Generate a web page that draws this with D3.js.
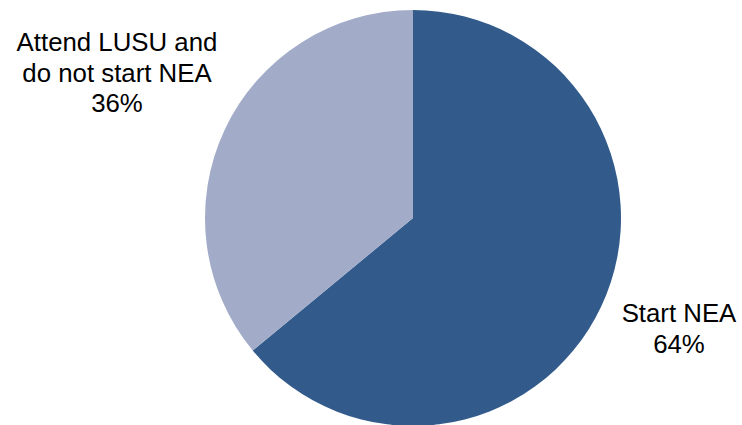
<!DOCTYPE html>
<html>
<head>
<meta charset="utf-8">
<script src="https://cdn.jsdelivr.net/npm/d3@7/dist/d3.min.js"></script>
<style>
  html, body { margin: 0; padding: 0; background: #fff; }
  svg { display: block; }
  text { font-family: "Liberation Sans", Arial, sans-serif; fill: #000; }
</style>
</head>
<body>
<script>
// Share of participants by outcome
const categories = ["Start NEA", "Attend LUSU and do not start NEA"];
const values = [64, 36];
const labelLines = [["Start NEA", "64%"], ["Attend LUSU and", "do not start NEA", "36%"]];
const colors = ["#325b8c", "#a2acc9"];

const width = 742, height = 425;
const cx = 413, cy = 218, radius = 208;

const svg = d3.select("body").append("svg")
  .attr("width", width).attr("height", height);

const pie = d3.pie().sort(null).value(d => d.value);
const arcs = pie(categories.map((c, i) => ({ name: c, value: values[i], lines: labelLines[i], color: colors[i] })));
const arc = d3.arc().innerRadius(0).outerRadius(radius);

const g = svg.append("g").attr("transform", `translate(${cx},${cy})`);
g.selectAll("path").data(arcs).join("path")
  .attr("d", arc)
  .attr("fill", d => d.data.color);

// Labels placed outside the slices
const labelPos = [[679, 322], [117, 51]];
const lineH = 30.5;
arcs.forEach((a, i) => {
  const t = svg.append("text")
    .attr("text-anchor", "middle")
    .attr("font-size", 25.8);
  a.data.lines.forEach((ln, j) => {
    t.append("tspan")
      .attr("x", labelPos[i][0])
      .attr("y", labelPos[i][1] + j * lineH)
      .text(ln);
  });
});
</script>
</body>
</html>
